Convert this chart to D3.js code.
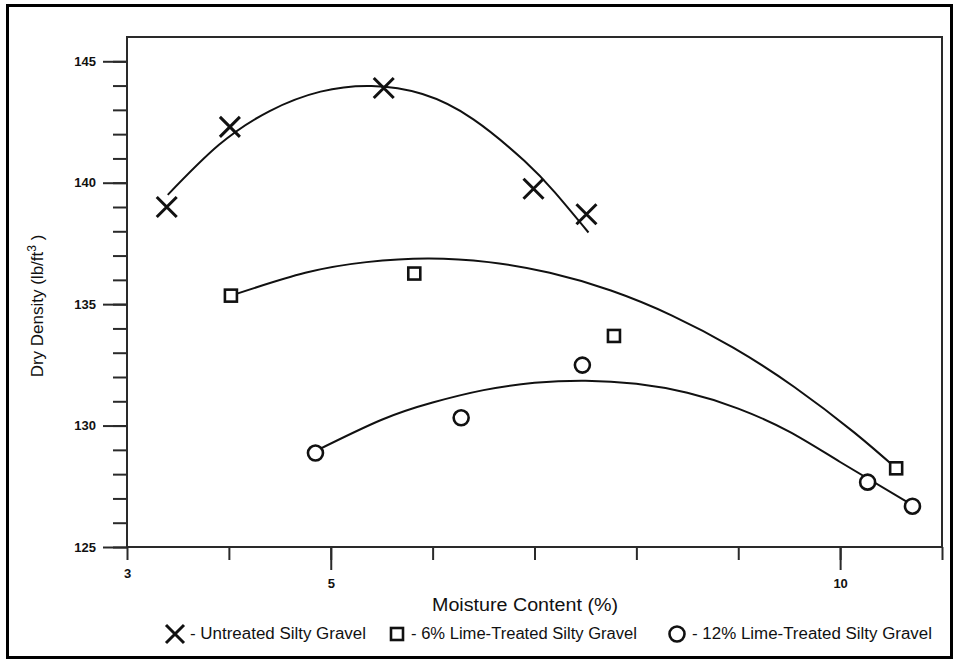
<!DOCTYPE html>
<html>
<head>
<meta charset="utf-8">
<script src="https://cdn.jsdelivr.net/npm/d3@7/dist/d3.min.js"></script>
<style>
  html, body { margin: 0; padding: 0; background: #fff; }
  svg { display: block; }
  text { font-family: "Liberation Sans", Arial, sans-serif; fill: #111; }
</style>
</head>
<body>
<svg id="chart" width="957" height="660"></svg>
<script>
// Compaction test results: moisture content (%) vs dry density (lb/ft^3)
const untreatedMoisture = [3.39, 4.01, 5.52, 6.99, 7.51];
const untreatedDensity  = [139.0, 142.3, 143.9, 139.75, 138.7];

const lime6Moisture = [4.02, 5.82, 7.78, 10.55];
const lime6Density  = [135.35, 136.26, 133.69, 128.24];

const lime12Moisture = [4.85, 6.28, 7.47, 10.27, 10.71];
const lime12Density  = [128.87, 130.32, 132.49, 127.67, 126.68];

// Smoothed compaction curves (moisture, density) traced along each trend
const untreatedCurveX = [3.4, 3.9, 4.4, 4.9, 5.4, 5.9, 6.4, 6.9, 7.2, 7.53];
const untreatedCurveY = [139.5, 141.55, 142.95, 143.75, 143.98, 143.65, 142.61, 140.9, 139.6, 137.95];

const lime6CurveX = [4.02, 4.75, 5.35, 5.95, 6.55, 7.15, 7.75, 8.35, 8.95, 9.55, 10.14, 10.55];
const lime6CurveY = [135.35, 136.29, 136.73, 136.88, 136.73, 136.29, 135.56, 134.53, 133.21, 131.59, 129.71, 128.24];

const lime12CurveX = [4.85, 5.5, 6.0, 6.5, 7.0, 7.5, 8.0, 8.5, 9.0, 9.5, 10.0, 10.71];
const lime12CurveY = [128.95, 130.24, 130.95, 131.46, 131.76, 131.85, 131.72, 131.35, 130.7, 129.75, 128.5, 126.72];

const xMinorTicks = [3, 4, 5, 6, 7, 8, 9, 10, 11];
const xMajorTicks = [5, 10];
const xLabelledMinor = [3];
const yMajorTicks = [125, 130, 135, 140, 145];
const yMinorTicks = d3.range(125, 146, 1);

const legendLabels = [
  "- Untreated Silty Gravel",
  "- 6% Lime-Treated Silty Gravel",
  "- 12% Lime-Treated Silty Gravel"
];

const svg = d3.select("#chart");

// outer frame
svg.append("rect")
  .attr("x", 7.5).attr("y", 5.5)
  .attr("width", 944).attr("height", 652)
  .attr("fill", "none").attr("stroke", "#000").attr("stroke-width", 3);

const plot = { left: 127, right: 942, top: 37, bottom: 547 };

const x = d3.scaleLinear().domain([3, 11]).range([plot.left, plot.right]);
const y = d3.scaleLinear().domain([125, 146]).range([plot.bottom, plot.top]);

const axisColor = "#2a2a2a";

// x axis: minor ticks every unit, longer ticks at 5 and 10
const gxMinor = svg.append("g")
  .attr("transform", `translate(0,${plot.bottom})`)
  .call(d3.axisBottom(x).tickValues(xMinorTicks).tickSize(13).tickPadding(9)
    .tickFormat(d => xLabelledMinor.includes(d) ? d : ""));
const gxMajor = svg.append("g")
  .attr("transform", `translate(0,${plot.bottom})`)
  .call(d3.axisBottom(x).tickValues(xMajorTicks).tickSize(23).tickPadding(9)
    .tickFormat(d3.format("d")));

// y axis: minor ticks every unit, major every 5
const gyMinor = svg.append("g")
  .attr("transform", `translate(${plot.left},0)`)
  .call(d3.axisLeft(y).tickValues(yMinorTicks).tickSize(14).tickFormat(""));
const gyMajor = svg.append("g")
  .attr("transform", `translate(${plot.left},0)`)
  .call(d3.axisLeft(y).tickValues(yMajorTicks).tickSize(24).tickPadding(7)
    .tickFormat(d3.format("d")));

[gxMinor, gxMajor, gyMinor, gyMajor].forEach(g => {
  g.select(".domain").remove();
  g.selectAll(".tick line").attr("stroke", axisColor).attr("stroke-width", 2);
  g.selectAll(".tick text")
    .style("font-family", '"Liberation Sans", Arial, sans-serif')
    .style("font-size", "13px").style("font-weight", "bold").attr("fill", "#111");
});

// plot box
svg.append("rect")
  .attr("x", plot.left).attr("y", plot.top)
  .attr("width", plot.right - plot.left).attr("height", plot.bottom - plot.top)
  .attr("fill", "none").attr("stroke", axisColor).attr("stroke-width", 2);

// axis titles
svg.append("text")
  .attr("x", 525).attr("y", 611)
  .attr("text-anchor", "middle")
  .attr("textLength", 186).attr("lengthAdjust", "spacingAndGlyphs")
  .style("font-size", "18px")
  .text("Moisture Content (%)");

const yTitle = svg.append("text")
  .attr("transform", "translate(43,306) rotate(-90)")
  .attr("text-anchor", "middle")
  .style("font-size", "17px");
yTitle.append("tspan").text("Dry Density (lb/ft");
yTitle.append("tspan").attr("dy", -7).style("font-size", "12px").text("3");
yTitle.append("tspan").attr("dy", 7).text(" )");

// trend curves
const line = d3.line().x(d => x(d[0])).y(d => y(d[1])).curve(d3.curveNatural);
const curves = [
  d3.zip(untreatedCurveX, untreatedCurveY),
  d3.zip(lime6CurveX, lime6CurveY),
  d3.zip(lime12CurveX, lime12CurveY)
];
svg.append("g").selectAll("path").data(curves).join("path")
  .attr("d", line)
  .attr("fill", "none").attr("stroke", "#111").attr("stroke-width", 2);

// marker drawing helpers
function drawCross(g, cx, cy, r) {
  g.append("path")
    .attr("d", `M${cx - r},${cy - r}L${cx + r},${cy + r}M${cx - r},${cy + r}L${cx + r},${cy - r}`)
    .attr("stroke", "#111").attr("stroke-width", 3).attr("fill", "none");
}
function drawSquare(g, cx, cy, s) {
  g.append("rect")
    .attr("x", cx - s / 2).attr("y", cy - s / 2).attr("width", s).attr("height", s)
    .attr("fill", "#fff").attr("stroke", "#111").attr("stroke-width", 2.6);
}
function drawCircle(g, cx, cy, r) {
  g.append("circle")
    .attr("cx", cx).attr("cy", cy).attr("r", r)
    .attr("fill", "#fff").attr("stroke", "#111").attr("stroke-width", 2.6);
}

const marks = svg.append("g");
d3.zip(untreatedMoisture, untreatedDensity)
  .forEach(([m, d]) => drawCross(marks, x(m), y(d), 10));
d3.zip(lime6Moisture, lime6Density)
  .forEach(([m, d]) => drawSquare(marks, x(m), y(d), 12));
d3.zip(lime12Moisture, lime12Density)
  .forEach(([m, d]) => drawCircle(marks, x(m), y(d), 7.5));

// legend
const legend = svg.append("g");
const legendY = 634;
const legendItems = [
  { mx: 175, tx: 190, w: 176, draw: (g, cx, cy) => drawCross(g, cx, cy, 9) },
  { mx: 397, tx: 411, w: 226, draw: (g, cx, cy) => drawSquare(g, cx, cy, 12) },
  { mx: 677, tx: 692, w: 240, draw: (g, cx, cy) => drawCircle(g, cx, cy, 7.5) }
];
legendItems.forEach((it, i) => {
  it.draw(legend, it.mx, legendY);
  legend.append("text")
    .attr("x", it.tx).attr("y", legendY + 5)
    .attr("textLength", it.w).attr("lengthAdjust", "spacingAndGlyphs")
    .style("font-size", "16px")
    .text(legendLabels[i]);
});
</script>
</body>
</html>
